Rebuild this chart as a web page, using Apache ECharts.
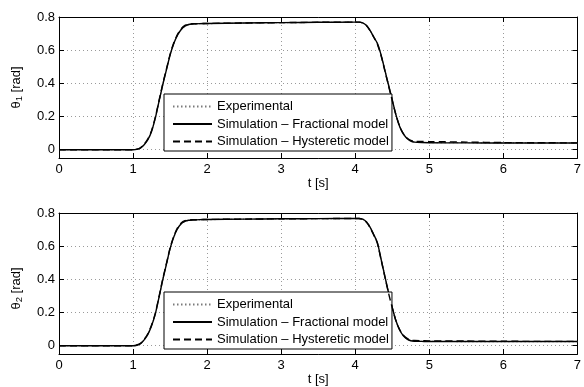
<!DOCTYPE html>
<html><head><meta charset="utf-8">
<script src="https://cdn.jsdelivr.net/npm/echarts@6/dist/echarts.min.js"></script>
<style>html,body{margin:0;padding:0;background:#fff}#c{width:584px;height:387px}</style>
</head><body><div id="c"></div>
<script>
const t = [0, 0.5, 1.0, 1.05, 1.1, 1.15, 1.2, 1.25, 1.3, 1.35, 1.4, 1.45, 1.5, 1.55, 1.6, 1.65, 1.7, 1.75, 1.8, 1.9, 2.0, 2.5, 3.0, 3.5, 4.0, 4.05, 4.1, 4.15, 4.2, 4.25, 4.3, 4.35, 4.4, 4.45, 4.5, 4.55, 4.6, 4.65, 4.7, 4.75, 4.8, 4.9, 5.0, 5.5, 6.0, 6.5, 7.0];
const theta1Exp = [0.001,0,0.001,0.003,0.011,0.031,0.062,0.112,0.19,0.29,0.39,0.48,0.57,0.64,0.69,0.724,0.744,0.754,0.757,0.758,0.760,0.763,0.766,0.767,0.769,0.769,0.765,0.751,0.72,0.68,0.64,0.57,0.48,0.39,0.30,0.21,0.14,0.095,0.068,0.053,0.047,0.044,0.043,0.042,0.041,0.041,0.040];
const theta1Frac = [0,0,0,0.002,0.01,0.03,0.06,0.11,0.19,0.29,0.39,0.48,0.57,0.64,0.69,0.725,0.745,0.755,0.758,0.760,0.761,0.764,0.766,0.768,0.769,0.769,0.765,0.75,0.72,0.68,0.64,0.57,0.48,0.39,0.30,0.21,0.14,0.095,0.068,0.052,0.046,0.043,0.042,0.041,0.040,0.040,0.040];
const theta1Hyst = [0,0,0,0.003,0.012,0.033,0.065,0.115,0.195,0.295,0.395,0.485,0.575,0.645,0.695,0.73,0.75,0.757,0.759,0.760,0.761,0.764,0.766,0.768,0.769,0.769,0.764,0.748,0.718,0.678,0.635,0.565,0.475,0.385,0.295,0.21,0.14,0.097,0.07,0.056,0.051,0.05,0.049,0.046,0.043,0.042,0.041];
const theta2Exp = [0.001,0,0.001,0.004,0.013,0.036,0.069,0.12,0.19,0.29,0.395,0.49,0.584,0.654,0.704,0.734,0.749,0.755,0.757,0.759,0.760,0.763,0.765,0.766,0.767,0.767,0.763,0.748,0.716,0.67,0.62,0.52,0.42,0.32,0.23,0.15,0.096,0.061,0.041,0.031,0.028,0.026,0.026,0.025,0.025,0.025,0.025];
const theta2Frac = [0,0,0,0.003,0.012,0.035,0.068,0.12,0.19,0.29,0.395,0.49,0.585,0.655,0.705,0.735,0.75,0.756,0.758,0.760,0.761,0.763,0.765,0.766,0.767,0.767,0.763,0.747,0.715,0.67,0.62,0.52,0.42,0.32,0.23,0.15,0.095,0.06,0.04,0.03,0.027,0.026,0.025,0.025,0.025,0.025,0.025];
const theta2Hyst = [0,0,0,0.004,0.014,0.038,0.072,0.125,0.195,0.295,0.40,0.495,0.59,0.66,0.71,0.74,0.754,0.758,0.759,0.760,0.761,0.763,0.765,0.766,0.767,0.767,0.762,0.745,0.712,0.667,0.616,0.516,0.416,0.317,0.228,0.15,0.097,0.063,0.044,0.034,0.031,0.03,0.029,0.028,0.027,0.026,0.026];
const xTicks = {min: 0, max: 7, interval: 1};
const yRange = {min: -0.05, max: 0.8};
const names = ['Experimental', 'Simulation – Fractional model', 'Simulation – Hysteretic model'];

const FONT = 'Liberation Sans, Arial, Helvetica, sans-serif';
const FS = 13;
const pairs = (ys) => t.map((x, i) => [x, ys[i]]);

const grids = [
  {left: 57, right: 2, top: 17, height: 141},
  {left: 57, right: 2, top: 213, height: 141}
];
const gridLine = {show: true, lineStyle: {color: '#9a9a9a', type: [1, 3], width: 1}};
function xAx(g, main) {
  return {
    type: 'value', gridIndex: g, min: xTicks.min, max: xTicks.max, interval: xTicks.interval,
    position: main ? 'bottom' : 'top',
    axisLine: {show: true, onZero: false, lineStyle: {color: '#000', width: 1}},
    axisTick: {show: true, inside: true, length: 5, lineStyle: {color: '#000'}},
    axisLabel: {show: main, color: '#000', fontFamily: FONT, fontSize: FS, margin: 5},
    splitLine: main ? gridLine : {show: false},
    name: main ? 't [s]' : '', nameLocation: 'middle', nameGap: 19,
    nameTextStyle: {color: '#000', fontFamily: FONT, fontSize: FS}
  };
}
function yAx(g, main, sub, shift) {
  return {
    type: 'value', gridIndex: g, min: yRange.min, max: yRange.max, splitNumber: 4,
    position: main ? 'left' : 'right',
    axisLine: {show: true, onZero: false, lineStyle: {color: '#000', width: 1}},
    axisTick: {show: true, inside: true, length: 5, lineStyle: {color: '#000'}},
    axisLabel: {show: main, showMinLabel: false, color: '#000', fontFamily: FONT, fontSize: FS, margin: 4,
      formatter: v => v < 0 ? '' : String(+v.toFixed(2))},
    splitLine: main ? gridLine : {show: false},
    name: main ? '{a|θ}{s|' + sub + '}{a| [rad]}' : '', nameLocation: 'middle', nameGap: 35, nameRotate: 90,
    nameTextStyle: {color: '#000', fontFamily: FONT, fontSize: FS, padding: [0, shift || 0, 0, 0],
      rich: {
        a: {color: '#000', fontFamily: FONT, fontSize: FS, lineHeight: 14, verticalAlign: 'top'},
        s: {color: '#000', fontFamily: FONT, fontSize: 9.5, lineHeight: 9, verticalAlign: 'bottom', padding: [6, 0, 0, 0]}
      }}
  };
}
const styles = [
  {color: '#7a7a7a', width: 1.2, type: [1.5, 2.5]},
  {color: '#000', width: 1.4, type: 'solid'},
  {color: '#000', width: 1.4, type: [7, 4]}
];
const data = [[theta1Exp, theta1Frac, theta1Hyst], [theta2Exp, theta2Frac, theta2Hyst]];
const series = [];
data.forEach((set, g) => {
  set.forEach((ys, k) => {
    series.push({
      type: 'line', name: names[k], xAxisIndex: g * 2, yAxisIndex: g * 2,
      data: pairs(ys), symbol: 'none', showSymbol: false, smooth: 0.25,
      lineStyle: styles[k], itemStyle: {color: styles[k].color}, animation: false, z: 2 + k
    });
  });
});
function legend(top) {
  return {
    data: names, orient: 'vertical', left: 164, top: top,
    backgroundColor: '#fff', borderColor: '#000', borderWidth: 1,
    padding: [6, 3, 3, 8], itemWidth: 39, itemHeight: 14, itemGap: 4.5,
    selectedMode: false,
    itemStyle: {color: 'rgba(0,0,0,0)', borderWidth: 0, opacity: 0},
    textStyle: {color: '#000', fontFamily: FONT, fontSize: FS, padding: [0, 0, 0, 0]}
  };
}
const chart = echarts.init(document.getElementById('c'), null, {renderer: 'canvas'});
chart.setOption({
  animation: false,
  backgroundColor: '#fff',
  grid: grids,
  xAxis: [xAx(0, true), xAx(0, false), xAx(1, true), xAx(1, false)],
  yAxis: [yAx(0, true, '1', 0), yAx(0, false), yAx(1, true, '2', 10), yAx(1, false)],
  legend: [legend(94), legend(292)],
  series: series
});
</script></body></html>
